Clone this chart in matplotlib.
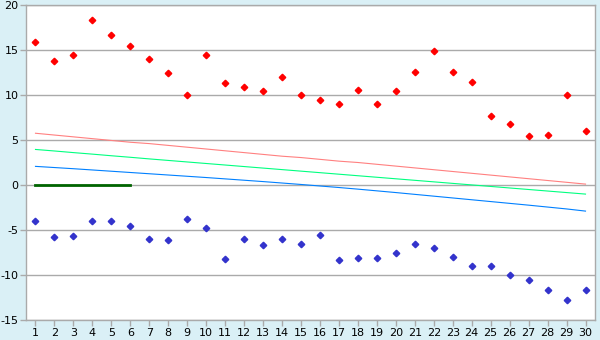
import matplotlib.pyplot as plt

# categorias do eixo x
categorias = list(range(1, 31))

# pontos vermelhos e azuis
pontos_vermelhos = [15.9, 13.75, 14.4, 18.3, 16.7, 15.4, 14.0, 12.5, 10.0, 14.5,
                    11.3, 10.85, 10.5, 11.95, 10.0, 9.4, 8.95, 10.6, 8.95, 10.4,
                    12.6, 14.85, 12.6, 11.5, 7.7, 6.75, 5.4, 5.6, 10.05, 5.95]
pontos_azuis = [-3.95, -5.8, -5.7, -3.95, -4.05, -4.5, -6.05, -6.15, -3.8, -4.8,
                -8.25, -6.05, -6.7, -6.05, -6.6, -5.6, -8.35, -8.15, -8.15, -7.5,
                -6.6, -7.05, -8.05, -8.95, -8.95, -10.05, -10.6, -11.7, -12.8, -11.7]

# linhas de tendencia
linha_vermelha = [5.75, 5.55, 5.35, 5.15, 4.95, 4.75, 4.6, 4.4, 4.2, 4.0,
                  3.8, 3.6, 3.4, 3.2, 3.05, 2.85, 2.65, 2.5, 2.3, 2.1,
                  1.9, 1.7, 1.5, 1.3, 1.1, 0.9, 0.7, 0.5, 0.3, 0.1]
linha_verde = [3.95, 3.78, 3.6, 3.43, 3.25, 3.08, 2.9, 2.73, 2.56, 2.39,
               2.22, 2.05, 1.88, 1.71, 1.54, 1.37, 1.2, 1.03, 0.86, 0.69,
               0.52, 0.35, 0.18, 0.01, -0.16, -0.33, -0.5, -0.67, -0.84, -1.01]
linha_azul = [2.07, 1.94, 1.81, 1.67, 1.53, 1.39, 1.25, 1.11, 0.97, 0.83,
              0.68, 0.53, 0.38, 0.22, 0.06, -0.11, -0.28, -0.46, -0.65, -0.84,
              -1.04, -1.24, -1.44, -1.64, -1.84, -2.04, -2.24, -2.45, -2.66, -2.9]

# segmento verde escuro
cat_zero = [1, 2, 3, 4, 5, 6]
valores_zero = [0, 0, 0, 0, 0, 0]

y_ticks = [-15, -10, -5, 0, 5, 10, 15, 20]

fig = plt.figure(figsize=(6, 3.4), dpi=100)
fig.patch.set_facecolor('#daf0f6')
ax = fig.add_axes([26 / 600, 20 / 340, 569 / 600, 315 / 340])
ax.set_facecolor('white')

ax.plot(categorias, linha_vermelha, color='#ff8080', linewidth=0.8)
ax.plot(categorias, linha_verde, color='#00ff80', linewidth=0.8)
ax.plot(categorias, linha_azul, color='#0080ff', linewidth=0.8)
ax.plot(cat_zero, valores_zero, color='#006400', linewidth=2)

ax.plot(categorias, pontos_vermelhos, linestyle='none', marker='D', markersize=3.3,
        color='#ff0000')
ax.plot(categorias, pontos_azuis, linestyle='none', marker='D', markersize=3.3,
        color='#3333cc')

ax.set_xlim(0.5, 30.5)
ax.set_ylim(-15, 20)
ax.set_xticks(categorias)
ax.set_yticks(y_ticks)
ax.set_yticklabels([str(v) for v in y_ticks])
ax.grid(axis='y', color='#aaaaaa', linewidth=1)
ax.set_axisbelow(True)

for s in ax.spines.values():
    s.set_color('#aaaaaa')
    s.set_linewidth(1)

ax.tick_params(axis='both', colors='#aaaaaa', labelcolor='black', labelsize=8,
               length=4, width=1, pad=1.5)

plt.savefig('out.png', dpi=100, facecolor=fig.get_facecolor())
plt.close()
